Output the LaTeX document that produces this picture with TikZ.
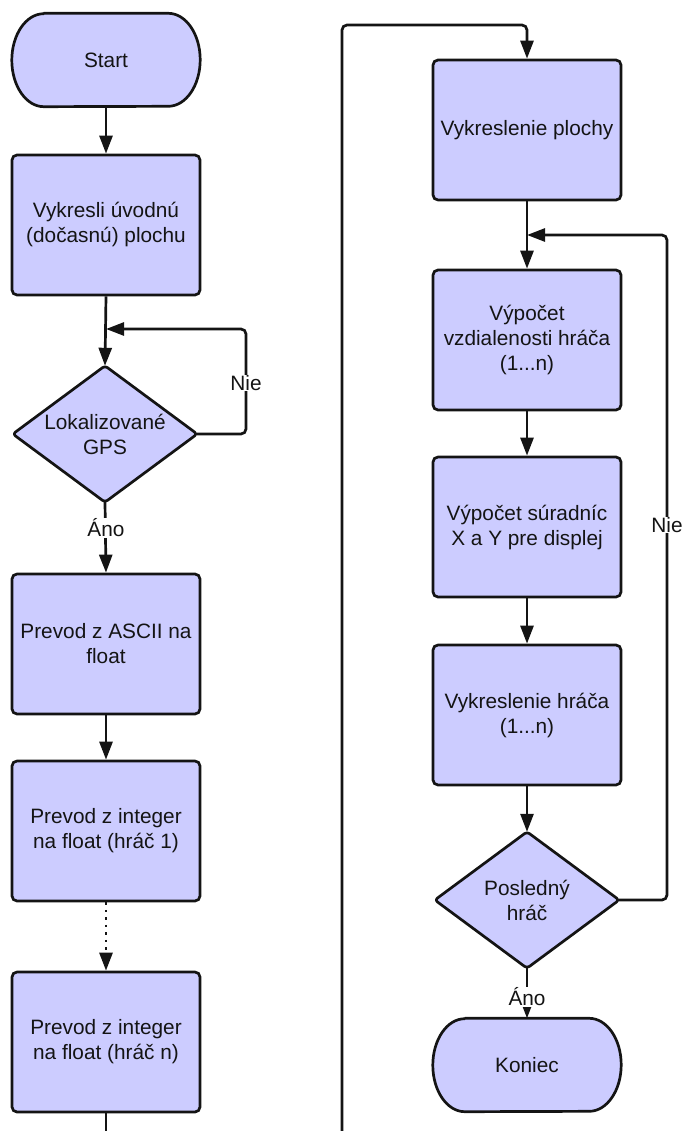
\documentclass[tikz,border=0pt]{standalone}
\usepackage{fontspec}
\setmainfont{Liberation Sans}
\usetikzlibrary{arrows.meta,calc,backgrounds}
\definecolor{boxfill}{RGB}{204,204,255}
\definecolor{ink}{RGB}{20,20,20}

\begin{document}
\begin{tikzpicture}[x=1pt,y=-1pt,
  every node/.style={font=\fontsize{20.8}{25}\selectfont, text=ink},
  proc/.style={draw=ink, fill=boxfill, line width=2.7pt, rounded corners=5pt,
    minimum width=188pt, minimum height=140pt, align=center, inner sep=0pt},
  term/.style={minimum width=188pt, minimum height=93pt, align=center, inner sep=0pt},
  dec/.style={minimum width=184pt, minimum height=136pt, align=center, inner sep=0pt},
  outline/.style={draw=ink, fill=boxfill, line width=2.7pt, line join=round},
  wire/.style={draw=ink, line width=2.7pt, rounded corners=5pt},
  conn/.style={wire, -{Triangle[length=18pt,width=13pt]}},
  lbl/.style={fill=white, inner sep=0.8pt}]

\useasboundingbox (0,0) rectangle (682,1131);

% left column
\node[term] (start) at (106,60)   {Start};
\node[proc] (vyk)   at (106,225)  {Vykresli úvodnú\\(dočasnú) plochu};
\node[dec]  (gps)   at (105,434)  {Lokalizované\\GPS};
\node[proc] (asc)   at (106,644)  {Prevod z ASCII na\\float};
\node[proc] (int1)  at (106,831)  {Prevod z integer\\na float (hráč 1)};
\node[proc] (intn)  at (106,1042) {Prevod z integer\\na float (hráč n)};

% right column
\node[proc] (plocha) at (527,130)  {Vykreslenie plochy};
\node[proc] (vzd)    at (527,340)  {Výpočet\\vzdialenosti hráča\\(1...n)};
\node[proc] (sur)    at (527,527)  {Výpočet súradníc\\X a Y pre displej};
\node[proc] (hraca)  at (527,715)  {Vykreslenie hráča\\(1...n)};
\node[dec]  (posl)   at (527,900)  {Posledný\\hráč};
\node[term] (koniec) at (527,1065) {Koniec};

% terminal and decision outlines behind their texts
\begin{scope}[on background layer]
  \foreach \t in {start,koniec}{
    \path[outline] ($(\t.north west)+(32,0)$) -- ($(\t.north east)+(-32,0)$)
      arc[start angle=90,end angle=-90,x radius=32pt,y radius=46.5pt]
      -- ($(\t.south west)+(32,0)$)
      arc[start angle=270,end angle=90,x radius=32pt,y radius=46.5pt] -- cycle;
  }
  \foreach \d in {gps,posl}{
    \path[outline, rounded corners=3pt] (\d.north) -- (\d.east) -- (\d.south) -- (\d.west) -- cycle;
  }
\end{scope}

% join points and page-edge ends
\coordinate (m1) at (106,329);
\coordinate (m2) at (527,235);
\coordinate (lend) at (106,1131);
\coordinate (rstart) at (342,1131);

% left column connectors
\draw[conn] (start.south) -- (vyk.north);
\draw[conn] (vyk.south) -- (gps.north);
\draw[conn] (gps.east) -| (246,329) -- (m1);
\node[lbl] (nie1) at (246,383) {Nie};
\draw[conn] (gps.south) -- (asc.north);
\node[lbl] (ano1) at (106,528) {Áno};
\draw[conn] (asc.south) -- (int1.north);
\draw[conn, dash pattern=on 2.5pt off 5pt] (int1.south) -- (intn.north);
\draw[wire] (intn.south) -- (lend);

% right column connectors
\draw[conn] (rstart) -- (342,25) -| (plocha.north);
\draw[conn] (plocha.south) -- (vzd.north);
\draw[conn] (vzd.south) -- (sur.north);
\draw[conn] (sur.south) -- (hraca.north);
\draw[conn] (hraca.south) -- (posl.north);
\draw[conn] (posl.east) -| (667,235) -- (m2);
\node[lbl] (nie2) at (667,525) {Nie};
\draw[conn] (posl.south) -- (koniec.north);
\node[lbl] (ano2) at (527,997) {Áno};
\end{tikzpicture}
\end{document}
